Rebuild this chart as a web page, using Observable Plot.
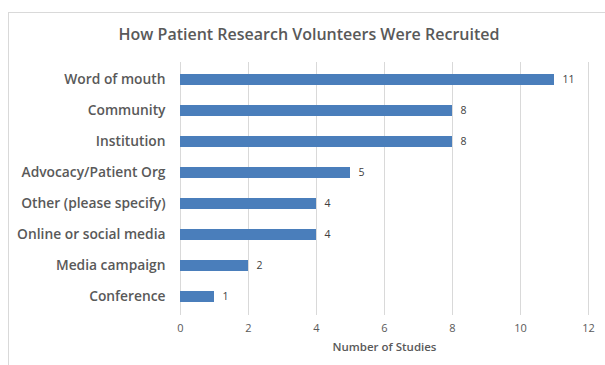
<!DOCTYPE html>
<html>
<head>
<meta charset="utf-8">
<script src="https://cdn.jsdelivr.net/npm/d3@7"></script>
<script src="https://cdn.jsdelivr.net/npm/@observablehq/plot@0.6"></script>
<style>
  html, body { margin: 0; padding: 0; background: #fff; }
  #wrap { position: relative; width: 605px; height: 365px; overflow: hidden; }
  #frame { position: absolute; left: 8px; top: 12px; width: 620px; height: 380px;
           border-left: 1px solid #d9d9d9; border-top: 1px solid #d9d9d9; }
  #title { position: absolute; left: 0; top: 23px; width: 618px; text-align: center;
           font-family: "Open Sans", sans-serif; font-weight: 600; font-size: 16px; color: #595959; }
  #chart { position: absolute; left: 0; top: 51px; }
</style>
</head>
<body>
<div id="wrap">
  <div id="frame"></div>
  <div id="title">How Patient Research Volunteers Were Recruited</div>
  <div id="chart"></div>
</div>
<script>
const categories = ["Word of mouth", "Community", "Institution", "Advocacy/Patient Org",
  "Other (please specify)", "Online or social media", "Media campaign", "Conference"];
const studies = [11, 8, 8, 5, 4, 4, 2, 1];
const xTicks = [0, 2, 4, 6, 8, 10, 12];
const xLabel = "Number of Studies";

const data = categories.map((c, i) => ({category: c, value: studies[i]}));

const plot = Plot.plot({
  width: 605,
  height: 314,
  marginTop: 11,
  marginBottom: 50,
  marginLeft: 180,
  marginRight: 17,
  style: {fontFamily: "'Open Sans', sans-serif", background: "transparent"},
  x: {domain: [0, 12], ticks: xTicks, label: null},
  y: {domain: categories, paddingInner: 0.64, paddingOuter: 0.32, label: null},
  marks: [
    Plot.gridX(xTicks.filter(t => t > 0), {stroke: "#d9d9d9", strokeOpacity: 1}),
    Plot.ruleX([0], {stroke: "#d9d9d9"}),
    Plot.barX(data, {x: "value", y: "category", fill: "#4a7ebb"}),
    Plot.text(data, {x: "value", y: "category", text: d => String(d.value), dx: 8,
      textAnchor: "start", fill: "#404040", fontSize: 10.5}),
    Plot.axisX({ticks: xTicks, tickSize: 0, tickPadding: 9, fontSize: 11, color: "#595959", label: null}),
    Plot.axisY({tickSize: 0, tickPadding: 15, fontSize: 13.8, fontWeight: 600, color: "#595959", label: null}),
    Plot.text([xLabel], {frameAnchor: "bottom", dy: 35, fontSize: 11.5, fontWeight: 600, fill: "#595959",
      x: () => 6})
  ]
});
document.getElementById("chart").appendChild(plot);
</script>
</body>
</html>
